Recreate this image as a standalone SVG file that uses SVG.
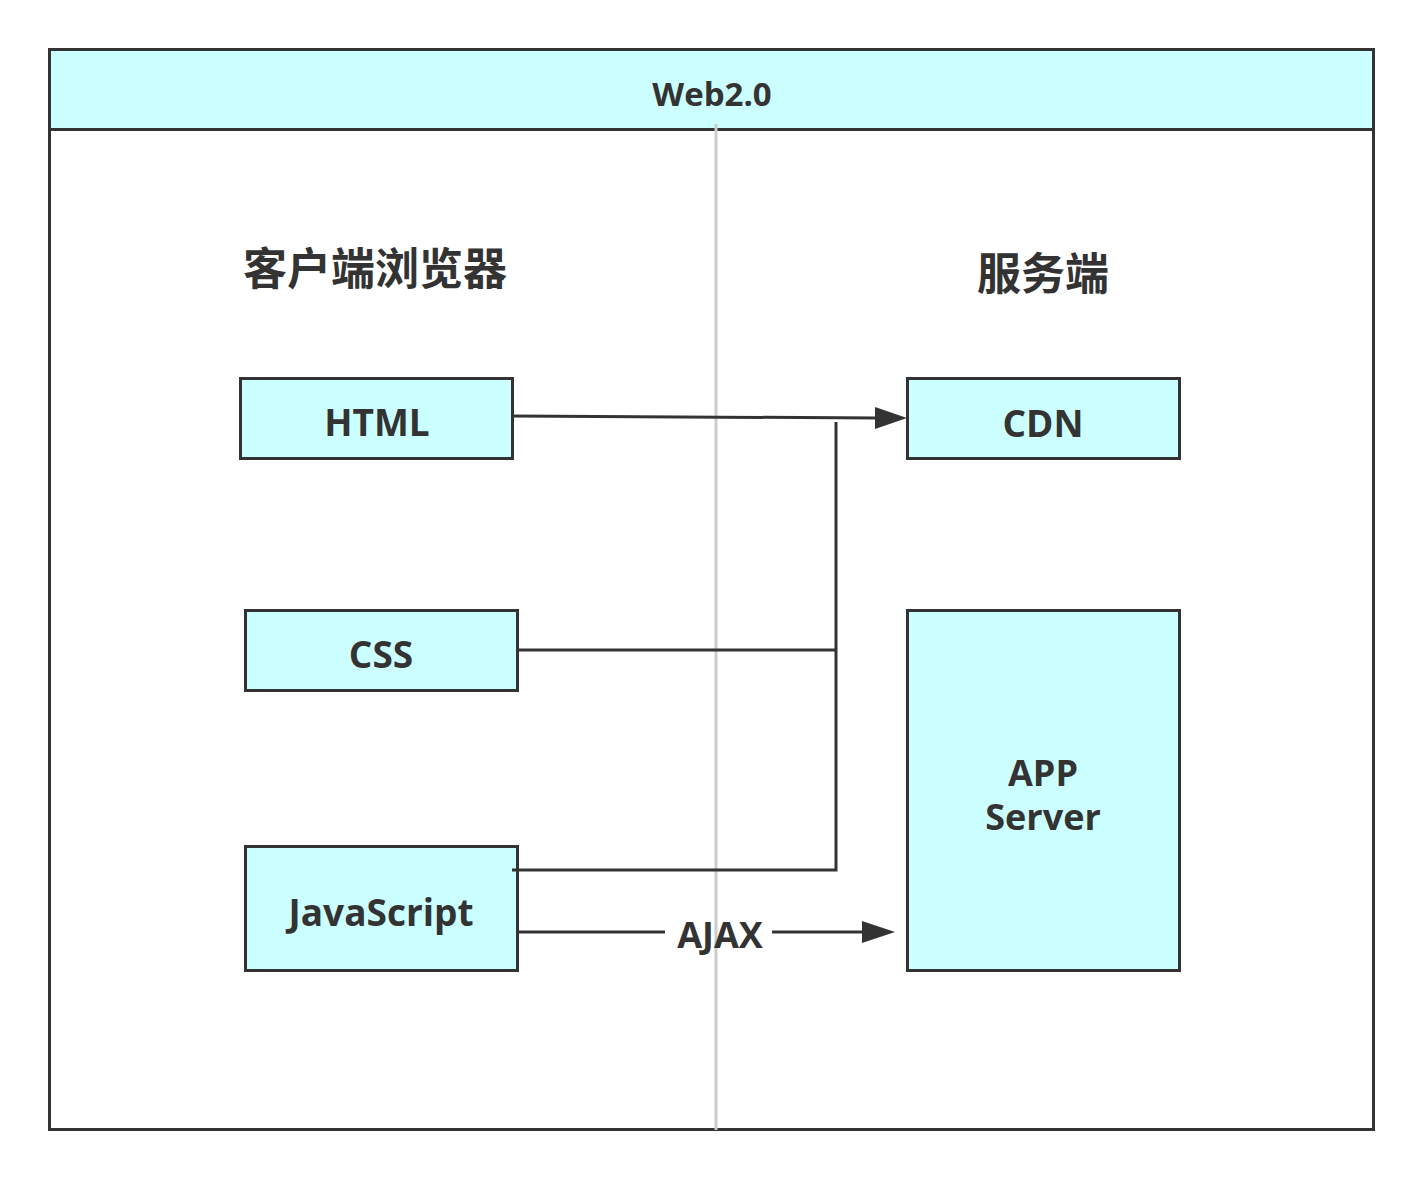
<svg xmlns="http://www.w3.org/2000/svg" width="1424" height="1180" viewBox="0 0 1424 1180">
<style>
.box{fill:#ccffff;stroke:#333;stroke-width:3}
.lbl{font-family:"Open Sans","Noto Sans","Liberation Sans",sans-serif;font-weight:bold;fill:#333;text-anchor:middle}
.cn{font-family:"Noto Sans CJK SC","Noto Sans",sans-serif;font-weight:bold;fill:#333;text-anchor:middle;font-size:44px}
.edge{fill:none;stroke:#333;stroke-width:3}
</style>
<rect width="1424" height="1180" fill="#fff"/>
<g id="container">
<rect x="49.5" y="49.5" width="1324" height="1080" fill="#fff" stroke="#333" stroke-width="3"/>
<rect x="49.5" y="49.5" width="1324" height="80" fill="#ccffff" stroke="#333" stroke-width="3"/>
<text class="lbl" x="712" y="106" font-size="33">Web2.0</text>
</g>
<g id="divider">
<line x1="716" y1="124" x2="716" y2="1130" stroke="#ccc" stroke-width="3"/>
</g>
<g id="title-client"><text class="cn" x="375" y="285">客户端浏览器</text></g>
<g id="title-server"><text class="cn" x="1043" y="290">服务端</text></g>
<g id="node-html">
<rect class="box" x="240.5" y="378.5" width="272" height="80"/>
<text class="lbl" x="377" y="436" font-size="37">HTML</text>
</g>
<g id="node-css">
<rect class="box" x="245.5" y="610.5" width="272" height="80"/>
<text class="lbl" x="381" y="668" font-size="37">CSS</text>
</g>
<g id="node-js">
<rect class="box" x="245.5" y="846.5" width="272" height="124"/>
<text class="lbl" x="381" y="926" font-size="37">JavaScript</text>
</g>
<g id="node-cdn">
<rect class="box" x="907.5" y="378.5" width="272" height="80"/>
<text class="lbl" x="1043" y="437" font-size="37">CDN</text>
</g>
<g id="node-app">
<rect class="box" x="907.5" y="610.5" width="272" height="360"/>
<text class="lbl" x="1043" y="786" font-size="36">APP</text>
<text class="lbl" x="1043" y="830" font-size="36">Server</text>
</g>
<g id="connectors">
<path class="edge" d="M512,416 L877,418" />
<path d="M875,407 L907,418 L875,429 z" fill="#333"/>
<path class="edge" d="M836,422 L836,870 L512,870"/>
<path class="edge" d="M517,650 L836,650"/>
<path class="edge" d="M517,932 L665,932 M772,932 L864,932"/>
<path d="M862,921 L895,932 L862,943 z" fill="#333"/>
<text class="lbl" x="720" y="948" font-size="36">AJAX</text>
</g>
</svg>
